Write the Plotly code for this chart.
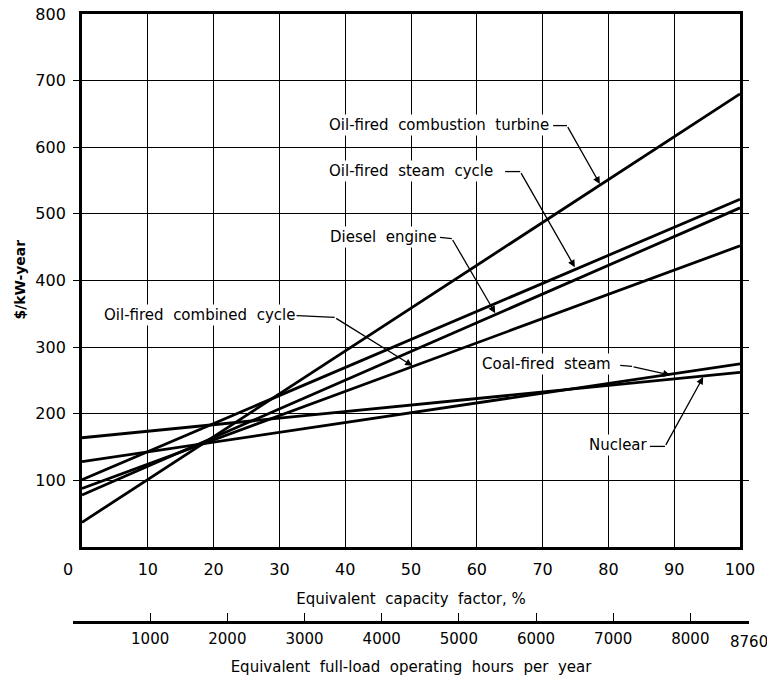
import plotly.graph_objects as go

# ---- data ----
capacity_factor = [0, 100]  # %
series_names = [
    "Oil-fired combustion turbine",
    "Oil-fired steam cycle",
    "Diesel engine",
    "Oil-fired combined cycle",
    "Coal-fired steam",
    "Nuclear",
]
ct_cost = [37, 680]
steam_cost = [101, 522]
diesel_cost = [78, 509]
combined_cost = [88, 452]
coal_cost = [128, 275]
nuclear_cost = [164, 262]
series_values = [ct_cost, steam_cost, diesel_cost, combined_cost, coal_cost, nuclear_cost]

cf_ticks = [10, 20, 30, 40, 50, 60, 70, 80, 90, 100]
cost_ticks = [100, 200, 300, 400, 500, 600, 700, 800]
hour_ticks = [1000, 2000, 3000, 4000, 5000, 6000, 7000, 8000, 8760]
hours_max = 8760

FONT = "DejaVu Sans"

fig = go.Figure()
for name, vals in zip(series_names, series_values):
    fig.add_trace(go.Scatter(x=capacity_factor, y=vals, mode="lines", name=name,
                             line=dict(color="black", width=2.8), showlegend=False,
                             hoverinfo="skip"))

# invisible trace to activate hours axis
fig.add_trace(go.Scatter(x=[0, hours_max], y=[0, 0], xaxis="x2", yaxis="y", mode="lines",
                         line=dict(width=0, color="rgba(0,0,0,0)"), showlegend=False,
                         hoverinfo="skip"))

# ---- label annotations (text + leader stub + arrow) ----
labels = [
    # text, text_x, text_y, stub_x0, stub_x1, stub_y0, stub_y1, tip_x, tip_y
    ("Oil-fired  combustion  turbine", 37.2, 634, 71.6, 73.7, 632.5, 632.5, 78.7, 545),
    ("Oil-fired  steam  cycle", 37.2, 565, 64.3, 66.6, 563.5, 563.5, 74.9, 420),
    ("Diesel  engine", 37.4, 464.6, 54.4, 56.2, 464.6, 463, 62.8, 351),
    ("Oil-fired  combined  cycle", 3.0, 347.6, 31.9, 38.4, 347.6, 344.6, 50.2, 272),
    ("Coal-fired  steam", 60.5, 274, 81.8, 83.6, 272.6, 271, 89.4, 258),
    ("Nuclear", 76.7, 152.5, 86.3, 88.6, 151, 151, 94.4, 255),
]
annotations = []
shapes = []
for text, tx, ty, sx0, sx1, sy0, sy1, hx, hy in labels:
    annotations.append(dict(x=tx, y=ty, xref="x", yref="y", text=text, showarrow=False,
                            xanchor="left", yanchor="middle",
                            font=dict(family=FONT, size=15, color="black"),
                            bgcolor="white", borderpad=1))
    shapes.append(dict(type="line", xref="x", yref="y", x0=sx0, x1=sx1, y0=sy0, y1=sy1,
                       line=dict(color="black", width=1.3)))
    annotations.append(dict(x=hx, y=hy, ax=sx1, ay=sy1, xref="x", yref="y", axref="x", ayref="y",
                            text="", showarrow=True, arrowhead=2, arrowsize=1.1,
                            arrowwidth=1.3, arrowcolor="black"))

# "0" tick label placed slightly left as in original
annotations.append(dict(x=0, y=0, xref="x", yref="y", text="0", showarrow=False,
                        xanchor="center", yanchor="top", xshift=-14, yshift=-11,
                        font=dict(family=FONT, size=16, color="black")))
# last hours tick label (kept visible at the axis end)
annotations.append(dict(x=hours_max, y=0, xref="x2", yref="paper", text=str(hours_max),
                        showarrow=False, xanchor="center", yanchor="top", yshift=-9,
                        font=dict(family=FONT, size=15, color="black")))
# y-axis title
annotations.append(dict(x=-0.079, y=0.5625, xref="paper", yref="paper", text="<b>$/kW-year</b>",
                        textangle=-90, showarrow=False, xanchor="center", yanchor="middle",
                        font=dict(family=FONT, size=14, color="black")))

L, R, T, B = 73, 18, 14, 56
W, H = 767, 678
pw = W - L - R
ph = H - T - B
x_dom = [(82 - L) / pw, (740 - L) / pw]
y_dom = [(H - B - 547) / ph, 1.0]

fig.update_layout(
    width=W, height=H,
    margin=dict(l=L, r=R, t=T, b=B),
    paper_bgcolor="white",
    plot_bgcolor="rgba(0,0,0,0)",
    font=dict(family=FONT, color="black"),
    xaxis=dict(domain=x_dom, range=[0, 100], tickvals=cf_ticks, ticks="",
               showgrid=True, gridcolor="black", gridwidth=1.3,
               showline=True, linecolor="black", linewidth=2.8, mirror=True,
               zeroline=False, anchor="y", automargin=False,
               tickfont=dict(family=FONT, size=16), ticklabelstandoff=6,
               title=dict(text="Equivalent  capacity  factor, %", font=dict(family=FONT, size=15),
                          standoff=16)),
    yaxis=dict(domain=y_dom, range=[0, 800], tickvals=cost_ticks, ticks="",
               showgrid=True, gridcolor="black", gridwidth=1.3,
               showline=True, linecolor="black", linewidth=2.8, mirror=True,
               zeroline=False, anchor="x", automargin=False,
               tickfont=dict(family=FONT, size=16), ticklabelstandoff=10),
    xaxis2=dict(domain=[0, 1], range=[0, hours_max], tickvals=hour_ticks,
                ticktext=[str(v) if v != hours_max else "" for v in hour_ticks],
                anchor="free", position=0, ticks="inside", ticklen=8, tickwidth=1.3,
                tickcolor="black", showgrid=False, zeroline=False,
                showline=True, linecolor="black", linewidth=2.8, automargin=False,
                tickfont=dict(family=FONT, size=15), ticklabelstandoff=2,
                title=dict(text="Equivalent  full-load  operating  hours  per  year",
                           font=dict(family=FONT, size=15), standoff=14)),
    annotations=annotations,
    shapes=shapes,
)

fig.write_html("out.html", config={"displayModeBar": False},
               post_script="document.body.style.margin='0';document.body.style.padding='0';")
